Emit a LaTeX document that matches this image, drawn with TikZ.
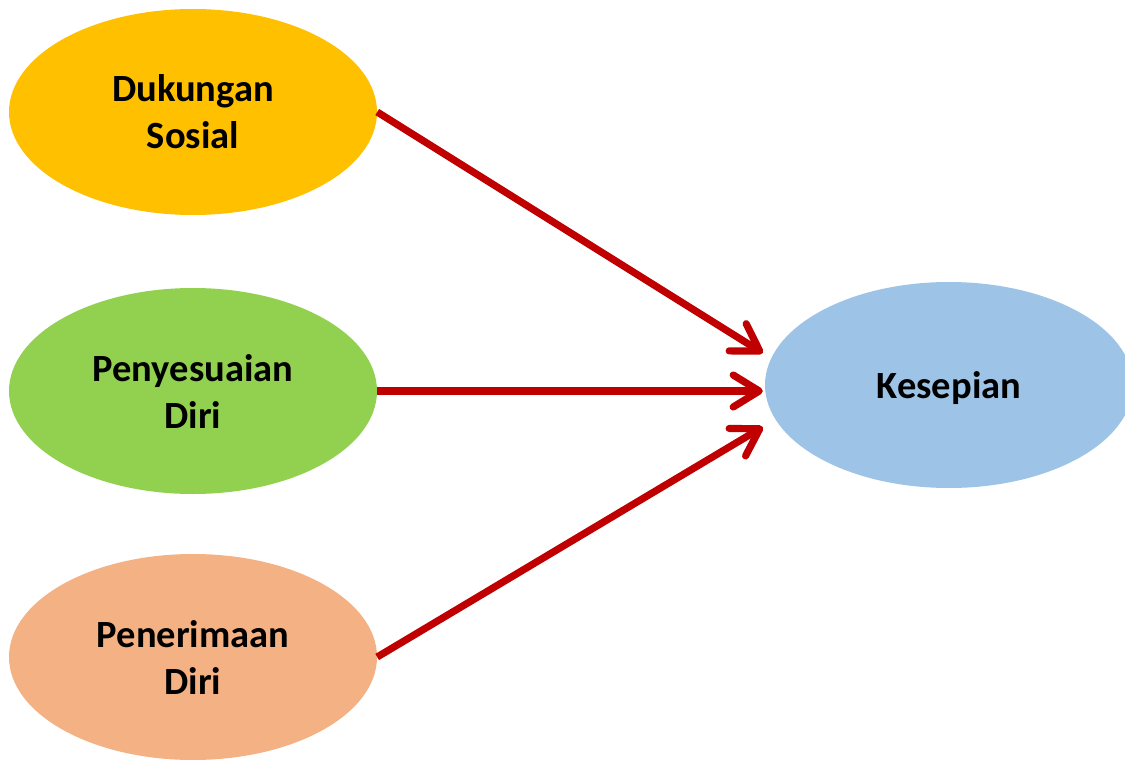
\documentclass[tikz,border=0pt]{standalone}
\usepackage{fontspec}
\setmainfont{Carlito}
\usetikzlibrary{arrows.meta,calc,shapes.geometric}
\definecolor{cyellow}{HTML}{FFC000}
\definecolor{cgreen}{HTML}{92D050}
\definecolor{csalmon}{HTML}{F4B183}
\definecolor{cblue}{HTML}{9DC3E6}
\definecolor{cred}{HTML}{C00000}
\begin{document}
\begin{tikzpicture}[x=1pt,y=-1pt,
  oval/.style={ellipse,minimum width=368pt,minimum height=206pt,inner sep=0pt,
    align=center,font=\fontsize{38.5}{47}\selectfont\bfseries},
  link/.style={cred,line width=7.2pt,
    -{Straight Barb[length=26pt,width=32pt,line width=7.2pt,line cap=round,line join=round]}}]
\useasboundingbox (0,0) rectangle (1125,760);
\clip (0,0) rectangle (1125,760);
\fill[white] (0,0) rectangle (1125,760);
\node[oval,fill=cyellow] (ds) at (193,112) {Dukungan\\Sosial};
\node[oval,fill=cgreen] (pd) at (193,391) {Penyesuaian\\Diri};
\node[oval,fill=csalmon] (pr) at (193,657) {Penerimaan\\Diri};
\node[oval,fill=cblue] (ks) at (949,385) {};
\node[font=\fontsize{38.5}{47}\selectfont\bfseries] (kt) at (949,388) {Kesepian};
\coordinate (t1) at ($(ks.west)+(-2,-32)$);
\coordinate (t2) at ($(ks.west)+(-2,6)$);
\coordinate (t3) at ($(ks.west)+(-2,42)$);
\draw[link] (ds.east) -- (t1);
\draw[link] (pd.east) -- (t2);
\draw[link] (pr.east) -- (t3);
\end{tikzpicture}
\end{document}
